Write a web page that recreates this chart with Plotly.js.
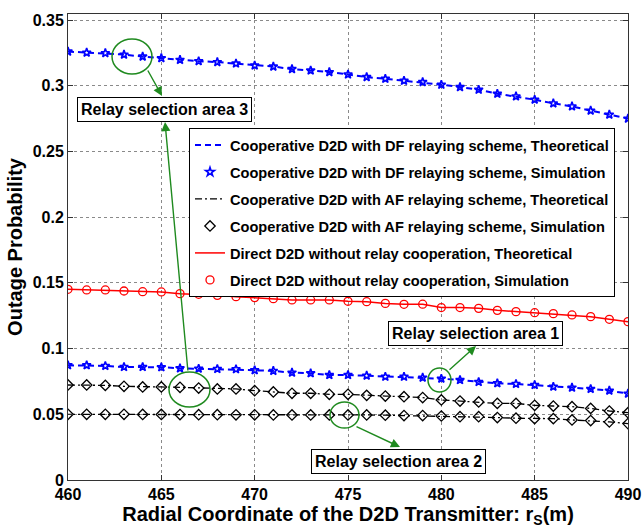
<!DOCTYPE html>
<html>
<head>
<meta charset="utf-8">
<script src="https://cdn.plot.ly/plotly-3.0.1.min.js"></script>
<style>html,body{margin:0;padding:0;background:#fff;}#chart{width:642px;height:528px;}</style>
</head>
<body>
<div id="chart"></div>
<script>
// Radial coordinate of D2D transmitter (m)
const rS = [460,461,462,463,464,465,466,467,468,469,470,471,472,473,474,475,476,477,478,479,480,481,482,483,484,485,486,487,488,489,490];

// Cooperative D2D, DF relaying, relay selection area 3 (upper blue)
const dfArea3 = [0.3260,0.3252,0.3248,0.3237,0.3222,0.3210,0.3197,0.3187,0.3180,0.3169,0.3154,0.3146,0.3127,0.3116,0.3104,0.3086,0.3066,0.3053,0.3038,0.3028,0.3008,0.2990,0.2970,0.2939,0.2919,0.2894,0.2866,0.2843,0.2811,0.2780,0.2750];
// Cooperative D2D, DF relaying, relay selection area 1 (lower blue)
const dfArea1 = [0.0873,0.0873,0.0868,0.0860,0.0860,0.0858,0.0850,0.0847,0.0845,0.0843,0.0835,0.0830,0.0817,0.0812,0.0799,0.0799,0.0794,0.0786,0.0786,0.0779,0.0771,0.0761,0.0746,0.0736,0.0731,0.0723,0.0710,0.0703,0.0693,0.0680,0.0657];
// Cooperative D2D, AF relaying (upper black)
const afUpper = [0.0723,0.0723,0.0720,0.0713,0.0708,0.0708,0.0705,0.0700,0.0693,0.0693,0.0680,0.0670,0.0660,0.0660,0.0652,0.0652,0.0644,0.0639,0.0634,0.0627,0.0609,0.0601,0.0594,0.0583,0.0583,0.0568,0.0563,0.0558,0.0545,0.0525,0.0512];
// Cooperative D2D, AF relaying, relay selection area 2 (lower black)
const afArea2 = [0.0500,0.0500,0.0500,0.0500,0.0499,0.0499,0.0498,0.0497,0.0497,0.0496,0.0496,0.0495,0.0495,0.0495,0.0495,0.0495,0.0495,0.0493,0.0490,0.0490,0.0487,0.0482,0.0482,0.0475,0.0470,0.0467,0.0467,0.0457,0.0452,0.0442,0.0429];
// Direct D2D without relay cooperation (red)
const direct = [0.1451,0.1446,0.1446,0.1438,0.1433,0.1431,0.1418,0.1413,0.1405,0.1395,0.1388,0.1380,0.1370,0.1370,0.1370,0.1360,0.1357,0.1344,0.1337,0.1338,0.1312,0.1312,0.1306,0.1291,0.1281,0.1273,0.1266,0.1256,0.1243,0.1223,0.1205];

const legendNames = [
  'Cooperative D2D with DF relaying scheme, Theoretical',
  'Cooperative D2D with DF relaying scheme, Simulation',
  'Cooperative D2D with AF relaying scheme, Theoretical',
  'Cooperative D2D with AF relaying scheme, Simulation',
  'Direct D2D without relay cooperation, Theoretical',
  'Direct D2D without relay cooperation, Simulation'
];
const areaLabels = ['Relay selection area 3','Relay selection area 1','Relay selection area 2'];

const BLUE = '#0000ff', BLACK = '#000000', RED = '#ff0000', GREEN = '#1f8a1f';
const dfLine = {color: BLUE, width: 2, dash: '6px,4px'};
const afLine = {color: BLACK, width: 1.3, dash: '7px,3px,2px,3px'};
const rdLine = {color: RED, width: 1.5};
const starM = {symbol: 'star-open', size: 6.5, color: BLUE, line: {color: BLUE, width: 1.6}};
const diaM = {symbol: 'diamond-open', size: 8, color: BLACK, line: {color: BLACK, width: 1.3}};
const cirM = {symbol: 'circle-open', size: 8, color: RED, line: {color: RED, width: 1.3}};

const traces = [
  {x: rS, y: dfArea3, mode: 'lines', line: dfLine, name: legendNames[0], legendgroup: 'g0'},
  {x: rS, y: dfArea1, mode: 'lines', line: dfLine, showlegend: false, legendgroup: 'g0'},
  {x: rS, y: dfArea3, mode: 'markers', marker: starM, name: legendNames[1], legendgroup: 'g1'},
  {x: rS, y: dfArea1, mode: 'markers', marker: starM, showlegend: false, legendgroup: 'g1'},
  {x: rS, y: afUpper, mode: 'lines', line: afLine, name: legendNames[2], legendgroup: 'g2'},
  {x: rS, y: afArea2, mode: 'lines', line: afLine, showlegend: false, legendgroup: 'g2'},
  {x: rS, y: afUpper, mode: 'markers', marker: diaM, name: legendNames[3], legendgroup: 'g3'},
  {x: rS, y: afArea2, mode: 'markers', marker: diaM, showlegend: false, legendgroup: 'g3'},
  {x: rS, y: direct, mode: 'lines', line: rdLine, name: legendNames[4], legendgroup: 'g4'},
  {x: rS, y: direct, mode: 'markers', marker: cirM, name: legendNames[5], legendgroup: 'g5'}
];

// paper-coordinate helpers (plot area 68..628 px, 14..480 px)
const L = 68, R = 628, T = 14, B = 480;
const px = v => (v - L) / (R - L);
const py = v => (B - v) / (B - T);

const FAM = 'Liberation Sans, Arial, sans-serif';
const boxFont = {family: FAM, size: 16, color: '#000', weight: 'bold'};
const boxAnn = (cx, cy, text) => ({
  xref: 'paper', yref: 'paper', x: px(cx), y: py(cy), text: '<b>' + text + '</b>', showarrow: false,
  font: boxFont, bgcolor: '#ffffff', bordercolor: '#000', borderwidth: 1, borderpad: 3,
  xanchor: 'center', yanchor: 'middle'
});
const arrowAnn = (hx, hy, tx, ty) => ({
  xref: 'paper', yref: 'paper', x: px(hx), y: py(hy), ax: tx - hx, ay: ty - hy,
  text: '', showarrow: true, arrowhead: 2, arrowsize: 1.3, arrowwidth: 1.4, arrowcolor: GREEN
});
const ell = (x0, x1, y0, y1) => ({
  type: 'circle', xref: 'paper', yref: 'paper', x0: px(x0), x1: px(x1), y0: py(y1), y1: py(y0),
  line: {color: GREEN, width: 1.5}
});

const axFont = {family: FAM, size: 16, color: '#000', weight: 'bold'};

const layout = {
  width: 642, height: 528,
  margin: {l: L, r: 642 - R, t: T, b: 528 - B},
  paper_bgcolor: '#ffffff', plot_bgcolor: '#ffffff',
  font: {family: FAM},
  xaxis: {
    range: [460, 490], dtick: 5, tick0: 460,
    showgrid: true, gridcolor: '#8a8a8a', griddash: 'dot', gridwidth: 1,
    zeroline: false, showline: true, linecolor: '#333', linewidth: 1, mirror: 'ticks',
    ticks: 'inside', ticklen: 5, tickcolor: '#333',
    tickfont: axFont,
    title: {text: '<b>Radial Coordinate of the D2D Transmitter: r<sub>S</sub>(m)</b>', font: {family: FAM, size: 20, color: '#000'}, standoff: 2}
  },
  yaxis: {
    range: [0, 0.3546], dtick: 0.05, tick0: 0,
    showgrid: true, gridcolor: '#8a8a8a', griddash: 'dot', gridwidth: 1,
    zeroline: false, showline: true, linecolor: '#333', linewidth: 1, mirror: 'ticks',
    ticks: 'inside', ticklen: 5, tickcolor: '#333',
    tickfont: axFont,
    title: {text: '<b>Outage Probability</b>', font: {family: FAM, size: 20, color: '#000'}, standoff: 4}
  },
  legend: {
    x: px(189), y: py(128), xanchor: 'left', yanchor: 'top',
    bgcolor: '#ffffff', bordercolor: '#000', borderwidth: 1,
    font: {family: FAM, size: 14.6, color: '#000', weight: 'bold'},
    traceorder: 'grouped', tracegroupgap: 5, itemwidth: 30
  },
  shapes: [
    ell(112, 152, 39, 74),
    ell(169, 210, 372, 407),
    ell(428, 451, 368, 392),
    ell(330, 359, 402, 428)
  ],
  annotations: [
    arrowAnn(162, 96, 147, 69),
    arrowAnn(165, 122, 188, 372),
    arrowAnn(476, 346, 448, 371),
    arrowAnn(400, 447, 355, 426),
    boxAnn(164, 109, areaLabels[0]),
    boxAnn(475, 333, areaLabels[1]),
    boxAnn(398, 461, areaLabels[2])
  ],
  showlegend: true
};

Plotly.newPlot('chart', traces, layout, {staticPlot: true, displayModeBar: false});
</script>
</body>
</html>
